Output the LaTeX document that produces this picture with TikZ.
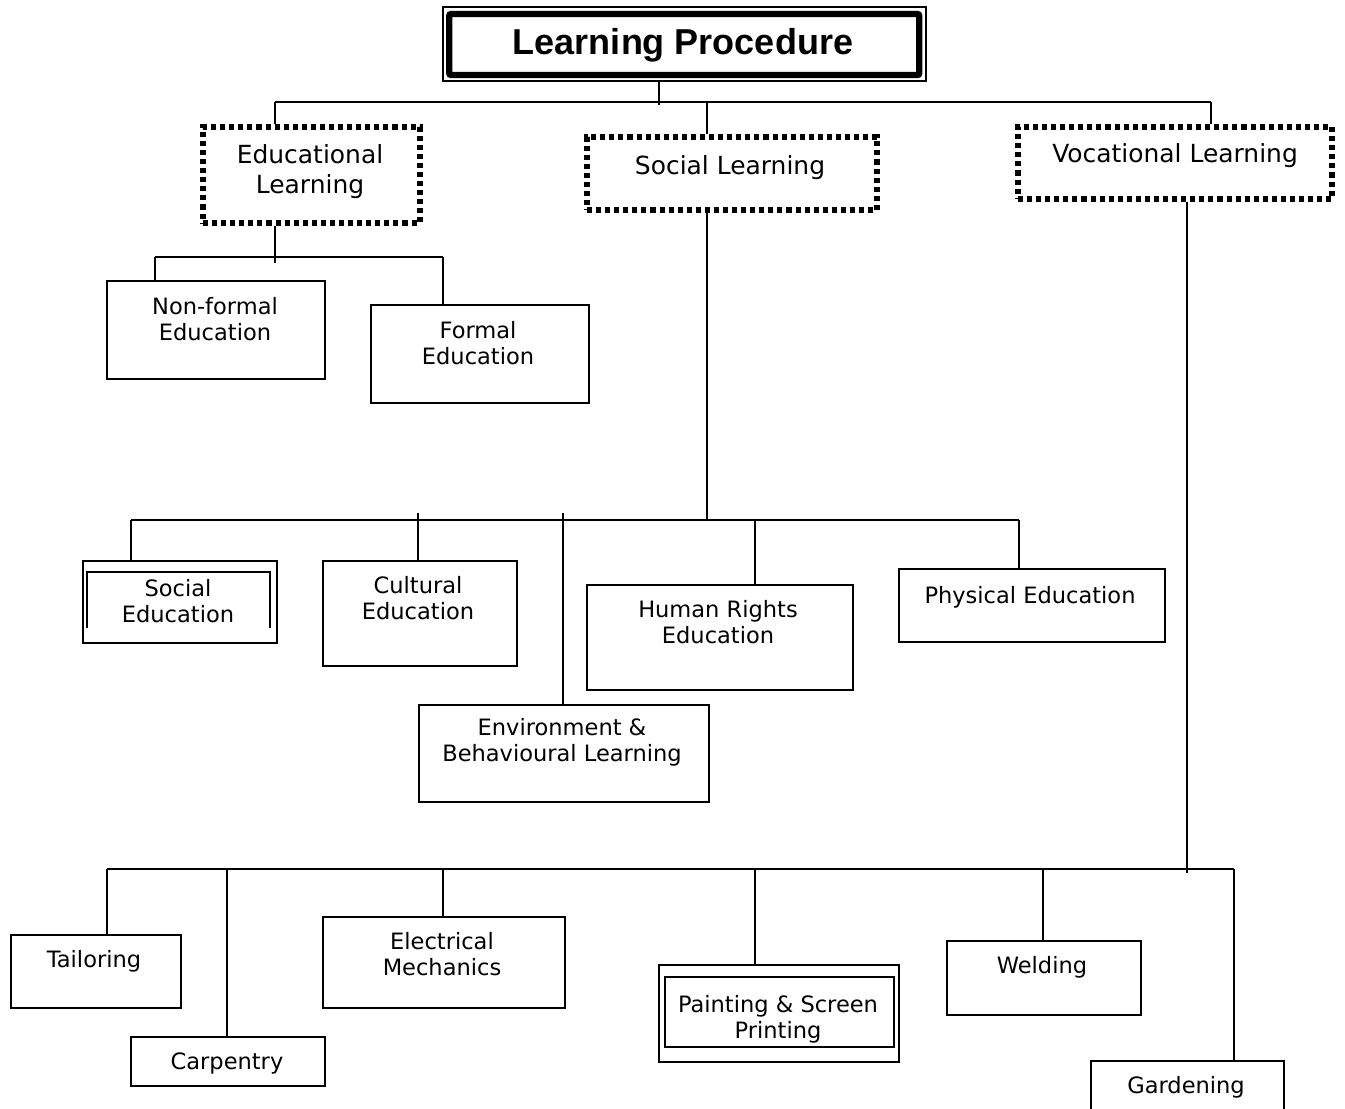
\documentclass[tikz,border=0pt]{standalone}
\usepackage{fontspec}
\setmainfont{DejaVu Sans}
\newfontfamily\titlefont{Liberation Sans}
\begin{document}
\begin{tikzpicture}[x=0.75pt,y=-0.75pt,
  sz/.style 2 args={minimum width=#1*0.75pt, minimum height=#2*0.75pt},
  box/.style={draw, line width=1.5pt, inner sep=0pt, rectangle},
  dotbox/.style={draw, line width=3.8pt, dash pattern=on 3.8pt off 3pt, inner sep=0pt, rectangle},
  thickbox/.style={draw, line width=4.8pt, rounded corners=1.5pt, inner sep=0pt, rectangle},
  conn/.style={line width=1.5pt},
  txt/.style={align=center, inner sep=0pt, font=\fontsize{16.9}{19.5}\selectfont},
  mtxt/.style={align=center, inner sep=0pt, font=\fontsize{18.7}{22.5}\selectfont},
  ttxt/.style={align=center, inner sep=0pt, font=\titlefont\bfseries\fontsize{27}{30}\selectfont}]
\useasboundingbox (0,0) rectangle (1345,1108);
\clip (0,0) rectangle (1345,1108);

% Title
\node[box, sz={483}{74}] (title) at (684.5,44) {};
\node[thickbox, sz={470}{61}] (titlein) at (684.25,44.5) {};
\node[ttxt] (titletxt) at (683,45) {Learning Procedure};

% Level 1
\node[dotbox, sz={217}{96}] (edu) at (311.5,175) {};
\node[mtxt] (edutxt) at (310,172) {Educational\\Learning};
\node[dotbox, sz={290}{73}] (soc) at (732,173.5) {};
\node[mtxt] (soctxt) at (730,168) {Social Learning};
\node[dotbox, sz={314}{72}] (voc) at (1175,163) {};
\node[mtxt] (voctxt) at (1175,156) {Vocational Learning};

% Educational children
\node[box, sz={218}{98}] (nonf) at (216,330) {};
\node[txt] (nonftxt) at (215,319) {Non-formal\\Education};
\node[box, sz={218}{98}] (form) at (480,354) {};
\node[txt] (formtxt) at (478,343) {Formal\\Education};

% Social children
\node[box, sz={194}{82}] (soced) at (180,602) {};
\draw[line width=1.5pt] (87,628) -- (87,572) -- (270,572) -- (270,628);
\node[txt] (socedtxt) at (178,601) {Social\\Education};
\node[box, sz={194}{105}] (cult) at (420,613.5) {};
\node[txt] (culttxt) at (418,598) {Cultural\\Education};
\node[box, sz={266}{105}] (hr) at (720,637.5) {};
\node[txt] (hrtxt) at (718,622) {Human Rights\\Education};
\node[box, sz={266}{73}] (phys) at (1032,605.5) {};
\node[txt] (phystxt) at (1030,597) {Physical Education};
\node[box, sz={290}{97}] (env) at (564,753.5) {};
\node[txt] (envtxt) at (562,742) {Environment \&\\Behavioural Learning};

% Vocational children
\node[box, sz={170}{73}] (tail) at (96,971.5) {};
\node[txt] (tailtxt) at (94,961) {Tailoring};
\node[box, sz={194}{49}] (carp) at (228,1061.5) {};
\node[txt] (carptxt) at (227,1063) {Carpentry};
\node[box, sz={242}{91}] (elec) at (444,962.5) {};
\node[txt] (electxt) at (442,954) {Electrical\\Mechanics};
\node[box, sz={240}{97}] (paint) at (779,1013.5) {};
\node[box, sz={229}{70}] (paintin) at (779.5,1012) {};
\node[txt] (painttxt) at (778,1019) {Painting \& Screen\\Printing};
\node[box, sz={194}{74}] (weld) at (1044,978) {};
\node[txt] (weldtxt) at (1042,967) {Welding};
\node[box, sz={193}{69}] (gard) at (1187.5,1095.5) {};
\node[txt] (gardtxt) at (1186,1087) {Gardening};

% Connectors: title
\coordinate (t0) at (659,105);
\coordinate (b0L) at (275,102);
\coordinate (b0M) at (707,102);
\coordinate (b0R) at (1211,102);
\draw[conn] (title.south -| t0) -- (t0);
\draw[conn] (b0L) -- (b0R);
\draw[conn] (b0L) -- (b0L |- edu.north);
\draw[conn] (b0M) -- (b0M |- soc.north);
\draw[conn] (b0R) -- (b0R |- voc.north);

% Educational
\coordinate (e0) at (275,263);
\coordinate (b1L) at (155,257);
\coordinate (b1R) at (443,257);
\draw[conn] (edu.south -| e0) -- (e0);
\draw[conn] (b1L) -- (b1R);
\draw[conn] (b1L) -- (b1L |- nonf.north);
\draw[conn] (b1R) -- (b1R |- form.north);

% Social
\coordinate (b2S) at (707,520);
\coordinate (b2L) at (131,520);
\coordinate (b2R) at (1019,520);
\coordinate (b2c) at (418,513);
\coordinate (b2e) at (563,513);
\coordinate (b2h) at (755,520);
\draw[conn] (soc.south -| b2S) -- (b2S);
\draw[conn] (b2L) -- (b2R);
\draw[conn] (b2L) -- (b2L |- soced.north);
\draw[conn] (b2c) -- (b2c |- cult.north);
\draw[conn] (b2e) -- (b2e |- env.north);
\draw[conn] (b2h) -- (b2h |- hr.north);
\draw[conn] (b2R) -- (b2R |- phys.north);

% Vocational
\coordinate (v0) at (1187,873);
\coordinate (b3L) at (107,869);
\coordinate (b3R) at (1234,869);
\coordinate (b3c) at (227,869);
\coordinate (b3e) at (443,869);
\coordinate (b3p) at (755,869);
\coordinate (b3w) at (1043,869);
\draw[conn] (voc.south -| v0) -- (v0);
\draw[conn] (b3L) -- (b3R);
\draw[conn] (b3L) -- (b3L |- tail.north);
\draw[conn] (b3c) -- (b3c |- carp.north);
\draw[conn] (b3e) -- (b3e |- elec.north);
\draw[conn] (b3p) -- (b3p |- paint.north);
\draw[conn] (b3w) -- (b3w |- weld.north);
\draw[conn] (b3R) -- (b3R |- gard.north);
\end{tikzpicture}
\end{document}
